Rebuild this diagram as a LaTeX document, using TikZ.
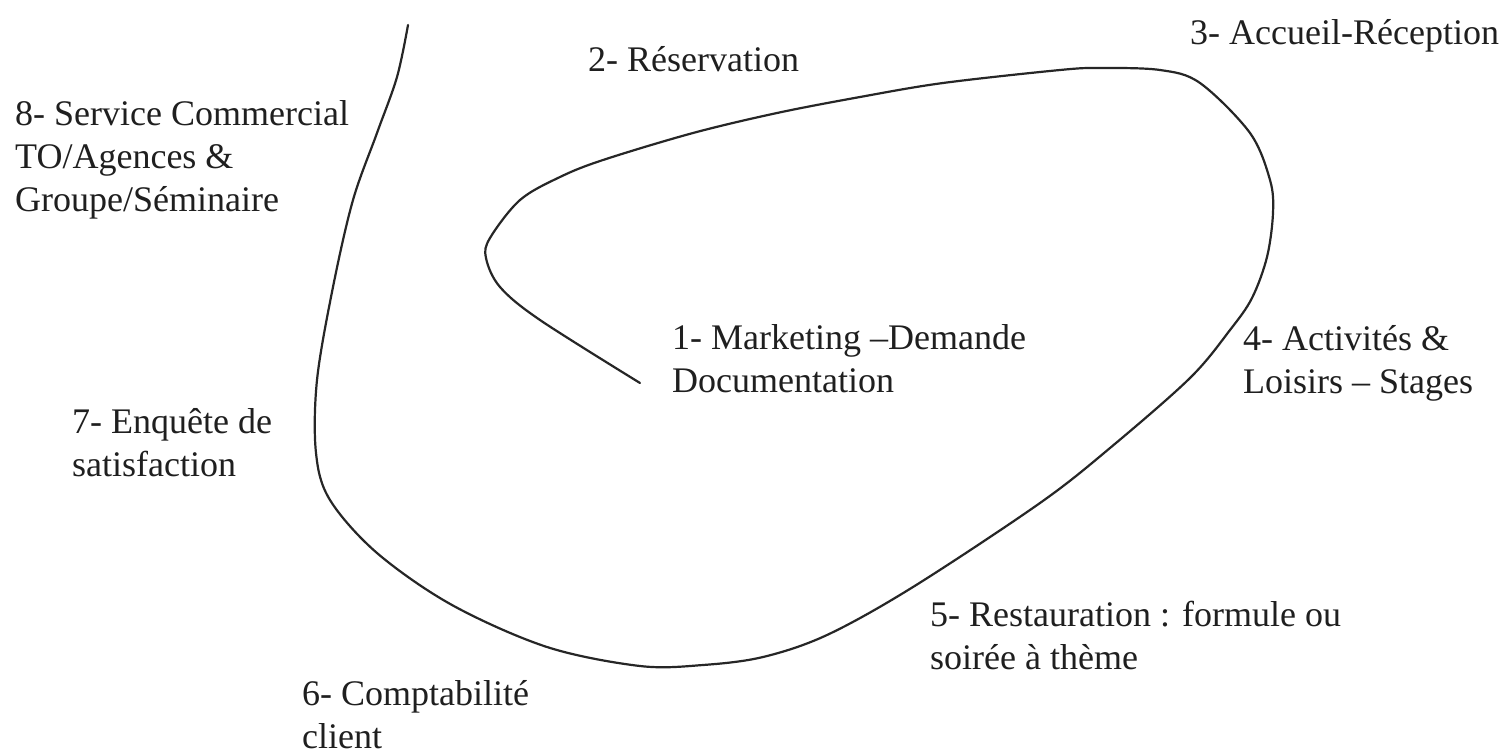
\documentclass[tikz,border=0pt]{standalone}
\usepackage{fontspec}
\setmainfont{Liberation Serif}
\begin{document}
\begin{tikzpicture}[x=1pt,y=-1pt,
  lbl/.style={anchor=base west,inner sep=0pt,align=left,font=\fontsize{36}{43}\selectfont,text=black!88},
  curve/.style={line width=2.2pt,black!85,line cap=round,line join=round}]
\useasboundingbox[fill=white] (0,0) rectangle (1502,755);
\draw[curve] plot[smooth,tension=0.55] coordinates {
 (408,25) (397,77) (377,133) (353,200) (333,287) (317,380) (316,453) (330,500)
 (377,553) (452,605) (547,647) (640,666) (703,665) (763,657)
 (827,635) (913,587) (1040,503) (1110,448) (1190,378)
 (1230,330) (1252,298) (1267,257) (1273,213) (1270,180) (1250,133) (1200,83)
 (1160,70) (1100,68) (1060,70) (943,83) (860,97) (777,113) (693,133) (603,160)
 (560,177) (520,200) (490,238) (486,258) (500,287) (540,320) (640,383)};
\node[lbl] (n2) at (588,71) {2- Réservation};
\node[lbl] (n3) at (1190,44) {3- Accueil-Réception};
\node[lbl] (n8) at (15,211) {8- Service Commercial\\TO/Agences \&\\Groupe/Séminaire};
\node[lbl] (n1) at (672,392) {1- Marketing –Demande\\Documentation};
\node[lbl] (n4) at (1243,393) {4- Activités \&\\Loisirs – Stages};
\node[lbl] (n7) at (72,476) {7- Enquête de\\satisfaction};
\node[lbl] (n5) at (930,669) {5- Restauration : formule ou\\soirée à thème};
\node[lbl] (n6) at (302,748) {6- Comptabilité\\client};
\end{tikzpicture}
\end{document}
